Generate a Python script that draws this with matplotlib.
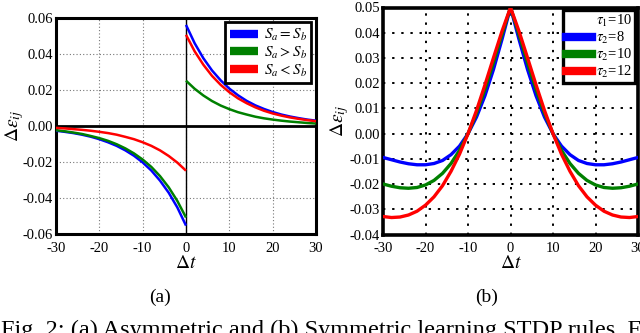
import numpy as np
import matplotlib
matplotlib.use("Agg")
import matplotlib.pyplot as plt

plt.rcParams['font.family'] = ['Liberation Serif', 'DejaVu Serif']
plt.rcParams['mathtext.fontset'] = 'stix'
plt.rcParams['axes.unicode_minus'] = False

# ---------- panel (a) data: asymmetric STDP ----------
dt_pos = [0, 2, 4, 6, 8, 10, 12, 14, 16, 18, 20, 22, 24, 26, 28, 30]
dt_neg = [0, -2, -4, -6, -8, -10, -12, -14, -16, -18, -20, -22, -24, -26, -28, -30]

a_eq_pos = [0.0560, 0.0458, 0.0375, 0.0307, 0.0252, 0.0206, 0.0169, 0.0138,
            0.0113, 0.0093, 0.0076, 0.0062, 0.0051, 0.0042, 0.0034, 0.0028]
a_gt_pos = [0.0250, 0.0205, 0.0168, 0.0137, 0.0112, 0.0092, 0.0075, 0.0062,
            0.0050, 0.0041, 0.0034, 0.0028, 0.0023, 0.0019, 0.0015, 0.0012]
a_lt_pos = [0.0505, 0.0413, 0.0339, 0.0277, 0.0227, 0.0186, 0.0152, 0.0125,
            0.0102, 0.0083, 0.0068, 0.0056, 0.0046, 0.0038, 0.0031, 0.0025]

a_eq_neg = [-0.0555, -0.0454, -0.0372, -0.0305, -0.0249, -0.0204, -0.0167, -0.0137,
            -0.0112, -0.0092, -0.0075, -0.0061, -0.0050, -0.0041, -0.0034, -0.0028]
a_gt_neg = [-0.0510, -0.0418, -0.0342, -0.0280, -0.0229, -0.0188, -0.0154, -0.0126,
            -0.0103, -0.0084, -0.0069, -0.0057, -0.0046, -0.0038, -0.0031, -0.0025]
a_lt_neg = [-0.0250, -0.0205, -0.0168, -0.0137, -0.0112, -0.0092, -0.0075, -0.0062,
            -0.0050, -0.0041, -0.0034, -0.0028, -0.0023, -0.0019, -0.0015, -0.0012]

a_labels = [r'$S_a = S_b$', r'$S_a > S_b$', r'$S_a < S_b$']
a_xticks = [-30, -20, -10, 0, 10, 20, 30]
a_yticks = [-0.06, -0.04, -0.02, 0.00, 0.02, 0.04, 0.06]

# ---------- panel (b) data: symmetric STDP (one side, mirrored) ----------
b_t = [0, 2, 4, 6, 8, 10, 12, 14, 16, 18, 20, 22, 24, 26, 28, 30]
b_tau8 = [0.0500, 0.0374, 0.0255, 0.0151, 0.0066, 0.0000, -0.0049, -0.0083,
          -0.0106, -0.0118, -0.0123, -0.0123, -0.0119, -0.0112, -0.0103, -0.0094]
b_tau10 = [0.0500, 0.0393, 0.0282, 0.0176, 0.0081, 0.0000, -0.0066, -0.0118,
           -0.0157, -0.0185, -0.0203, -0.0213, -0.0216, -0.0214, -0.0208, -0.0199]
b_tau12 = [0.0500, 0.0406, 0.0301, 0.0194, 0.0092, 0.0000, -0.0081, -0.0149,
           -0.0206, -0.0250, -0.0283, -0.0307, -0.0322, -0.0330, -0.0332, -0.0328]
b_labels = [r'$\tau_2$=8', r'$\tau_2$=10', r'$\tau_2$=12']
b_title = r'$\tau_1$=10'
b_xticks = [-30, -20, -10, 0, 10, 20, 30]
b_yticks = [-0.04, -0.03, -0.02, -0.01, 0.00, 0.01, 0.02, 0.03, 0.04, 0.05]

colors = ['#0000ff', '#008000', '#ff0000']

fig = plt.figure(figsize=(6.4, 3.33), dpi=100)
W, H = 640.0, 333.0

def add_ax(l, t, r, b):
    return fig.add_axes([l / W, 1 - b / H, (r - l) / W, (b - t) / H])

# ---------------- panel (a) ----------------
ax = add_ax(56, 17.7, 316, 233.7)
ax.axhline(0, color='black', lw=2.0, zorder=2)
ax.axvline(0, color='black', lw=1.0, zorder=2)
pos_series = [a_eq_pos, a_gt_pos, a_lt_pos]
neg_series = [a_eq_neg, a_gt_neg, a_lt_neg]
for yp, yn, c, lab in zip(pos_series, neg_series, colors, a_labels):
    ax.plot(dt_pos, yp, color=c, lw=1.8, label=lab, zorder=3, solid_capstyle='butt')
    ax.plot(dt_neg, yn, color=c, lw=1.8, zorder=3, solid_capstyle='butt')
ax.set_xlim(-30, 30)
ax.set_ylim(-0.06, 0.06)
ax.set_xticks(a_xticks)
ax.set_yticks(a_yticks)
ax.set_yticklabels(['%.2f' % v if v != 0 else '0.00' for v in a_yticks])
ax.grid(True, color='#777777', linestyle=(0, (1, 2)), lw=0.8)
ax.tick_params(axis='y', length=0, labelsize=10.5, pad=2)
ax.tick_params(axis='x', length=0, labelsize=10.5, pad=6)
for s in ax.spines.values():
    s.set_linewidth(2.2)
ax.set_xlabel(r'$\Delta t$', fontsize=14, labelpad=0)
ax.set_ylabel(r'$\Delta\varepsilon_{ij}$', fontsize=14, labelpad=-2)
leg = ax.legend(loc='upper right', fontsize=11, fancybox=False, framealpha=1,
                edgecolor='black', handlelength=1.8, handletextpad=0.4,
                borderpad=0.3, labelspacing=0.12, borderaxespad=0.3)
leg.get_frame().set_linewidth(2.0)
for h in leg.get_lines():
    h.set_linewidth(6)

# ---------------- panel (b) ----------------
bx = add_ax(383, 7.5, 638, 234.7)
t_full = [-v for v in b_t[::-1]] + b_t[1:]
for ys, c, lab in zip([b_tau8, b_tau10, b_tau12], colors, b_labels):
    y_full = ys[::-1] + ys[1:]
    bx.plot(t_full, y_full, color=c, lw=2.4, label=lab, zorder=3)
bx.set_xlim(-30, 30)
bx.set_ylim(-0.04, 0.05)
bx.set_xticks(b_xticks)
bx.set_yticks(b_yticks)
bx.set_yticklabels(['%.2f' % v if v != 0 else '0.00' for v in b_yticks])
bx.grid(True, color='black', linestyle=(0, (1.2, 3.5)), lw=1.4)
bx.tick_params(axis='y', length=0, labelsize=10.5, pad=2)
bx.tick_params(axis='x', length=0, labelsize=10.5, pad=5)
for s in bx.spines.values():
    s.set_linewidth(2.6)
bx.set_xlabel(r'$\Delta t$', fontsize=14, labelpad=0)
bx.set_ylabel(r'$\Delta\epsilon_{ij}$', fontsize=14, labelpad=-1)
leg2 = bx.legend(loc='upper right', title=b_title, alignment='right', fontsize=10.5,
                 title_fontsize=10.5, fancybox=False, framealpha=1, edgecolor='black',
                 handlelength=1.8, handletextpad=0.3, borderpad=0.2,
                 labelspacing=0.05, borderaxespad=0.2)
leg2.get_frame().set_linewidth(2.4)
for h in leg2.get_lines():
    h.set_linewidth(6)

# ---------------- captions ----------------
fig.text(160 / W, 1 - 297 / H, '(a)', ha='center', va='center', fontsize=14)
fig.text(487 / W, 1 - 297 / H, '(b)', ha='center', va='center', fontsize=14)
fig.text(1 / W, 1 - 320 / H,
         'Fig. 2: (a) Asymmetric and (b) Symmetric learning STDP rules. F',
         ha='left', va='top', fontsize=17.5)

fig.savefig('out.png', dpi=100)
